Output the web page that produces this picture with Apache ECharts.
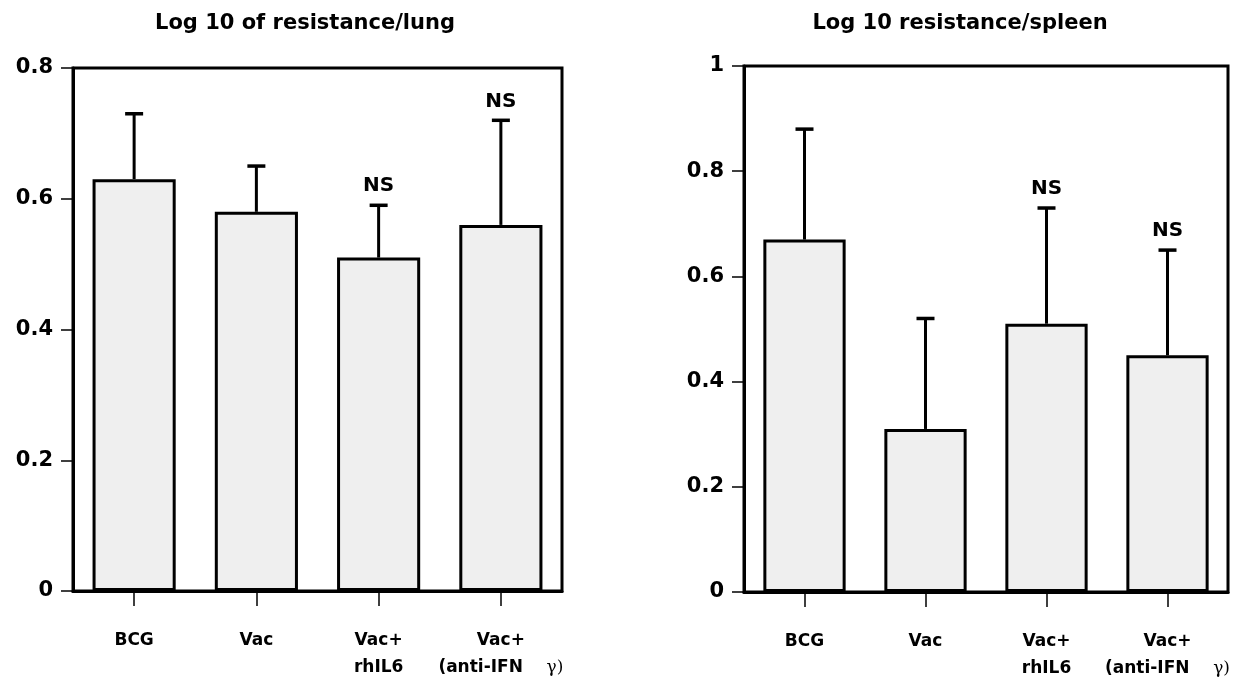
<!DOCTYPE html>
<html><head><meta charset="utf-8">
<script src="https://cdn.jsdelivr.net/npm/echarts@6/dist/echarts.min.js"></script>
<style>html,body{margin:0;padding:0;background:#fff}#c{width:1260px;height:686px}</style>
</head><body><div id="c"></div>
<script>
const categories = ['BCG', 'Vac', 'Vac+\nrhIL6', 'Vac+\n(anti-IFN γ)'];
const lungMeans = [0.63, 0.58, 0.51, 0.56];
const lungErrTop = [0.73, 0.65, 0.59, 0.72];
const lungNS = ['', '', 'NS', 'NS'];
const spleenMeans = [0.67, 0.31, 0.51, 0.45];
const spleenErrTop = [0.88, 0.52, 0.73, 0.65];
const spleenNS = ['', '', 'NS', 'NS'];
const lungAxis = { min: 0, max: 0.8, interval: 0.2 };
const spleenAxis = { min: 0, max: 1, interval: 0.2 };
const titles = ['Log 10 of resistance/lung', 'Log 10 resistance/spleen'];

const F = 'DejaVu Sans';
const chart = echarts.init(document.getElementById('c'));

function catAxis(gi) {
  return {
    type: 'category', gridIndex: gi, data: categories,
    axisLine: { show: true, lineStyle: { color: '#000', width: 3 } },
    axisTick: { show: true, alignWithLabel: true, interval: 0, length: 15, lineStyle: { color: '#000', width: 1.5 } },
    axisLabel: {
      interval: 0, margin: 36, color: '#000', fontFamily: F, fontWeight: 'bold', fontSize: 17, lineHeight: 27,
      formatter: v => v.replace(' γ)', '    {g|γ)}'),
      rich: { g: { fontFamily: 'DejaVu Serif', fontWeight: 'normal', fontSize: 17, color: '#000', lineHeight: 27 } }
    },
    splitLine: { show: false }
  };
}
function valAxis(gi, ax) {
  return {
    type: 'value', gridIndex: gi, min: ax.min, max: ax.max, interval: ax.interval,
    axisLine: { show: true, lineStyle: { color: '#000', width: 3 } },
    axisTick: { show: true, length: 12, lineStyle: { color: '#000', width: 1.5 } },
    axisLabel: { margin: 20, color: '#000', fontFamily: F, fontWeight: 'bold', fontSize: 21 },
    splitLine: { show: false }
  };
}
function errRender(ns) {
  return function (params, api) {
    const i = api.value(0);
    const p0 = api.coord([i, api.value(1)]);
    const p1 = api.coord([i, api.value(2)]);
    const ch = [
      { type: 'line', shape: { x1: p0[0], y1: p0[1], x2: p1[0], y2: p1[1] }, style: { stroke: '#000', lineWidth: 3 } },
      { type: 'line', shape: { x1: p1[0] - 9, y1: p1[1], x2: p1[0] + 9, y2: p1[1] }, style: { stroke: '#000', lineWidth: 3.5 } }
    ];
    if (ns[params.dataIndex]) {
      ch.push({ type: 'text', style: { text: ns[params.dataIndex], x: p1[0], y: p1[1] - 9, align: 'center', verticalAlign: 'bottom',
        fill: '#000', font: 'bold 20px "DejaVu Sans"' } });
    }
    return { type: 'group', children: ch };
  };
}
function barSeries(gi, vals) {
  return {
    type: 'bar', xAxisIndex: gi, yAxisIndex: gi, data: vals, barWidth: '68%',
    itemStyle: { color: '#efefef', borderColor: '#000', borderWidth: 3 }, silent: true, z: 2
  };
}
function errSeries(gi, means, tops, ns) {
  return {
    type: 'custom', xAxisIndex: gi, yAxisIndex: gi, renderItem: errRender(ns), z: 3, silent: true,
    data: means.map((m, i) => [i, m, tops[i]])
  };
}

const titleStyle = { fontFamily: F, fontWeight: 'bold', fontSize: 21, color: '#000' };
chart.setOption({
  animation: false,
  title: [
    { text: titles[0], left: 300, top: 8, textAlign: 'center', textStyle: titleStyle },
    { text: titles[1], left: 955, top: 8, textAlign: 'center', textStyle: titleStyle }
  ],
  grid: [
    { left: 73, right: 698, top: 68, bottom: 95, show: true, borderColor: '#000', borderWidth: 3, backgroundColor: 'transparent' },
    { left: 744, right: 32, top: 66, bottom: 94, show: true, borderColor: '#000', borderWidth: 3, backgroundColor: 'transparent' }
  ],
  xAxis: [catAxis(0), catAxis(1)],
  yAxis: [valAxis(0, lungAxis), valAxis(1, spleenAxis)],
  series: [
    barSeries(0, lungMeans), errSeries(0, lungMeans, lungErrTop, lungNS),
    barSeries(1, spleenMeans), errSeries(1, spleenMeans, spleenErrTop, spleenNS)
  ]
});
</script></body></html>
